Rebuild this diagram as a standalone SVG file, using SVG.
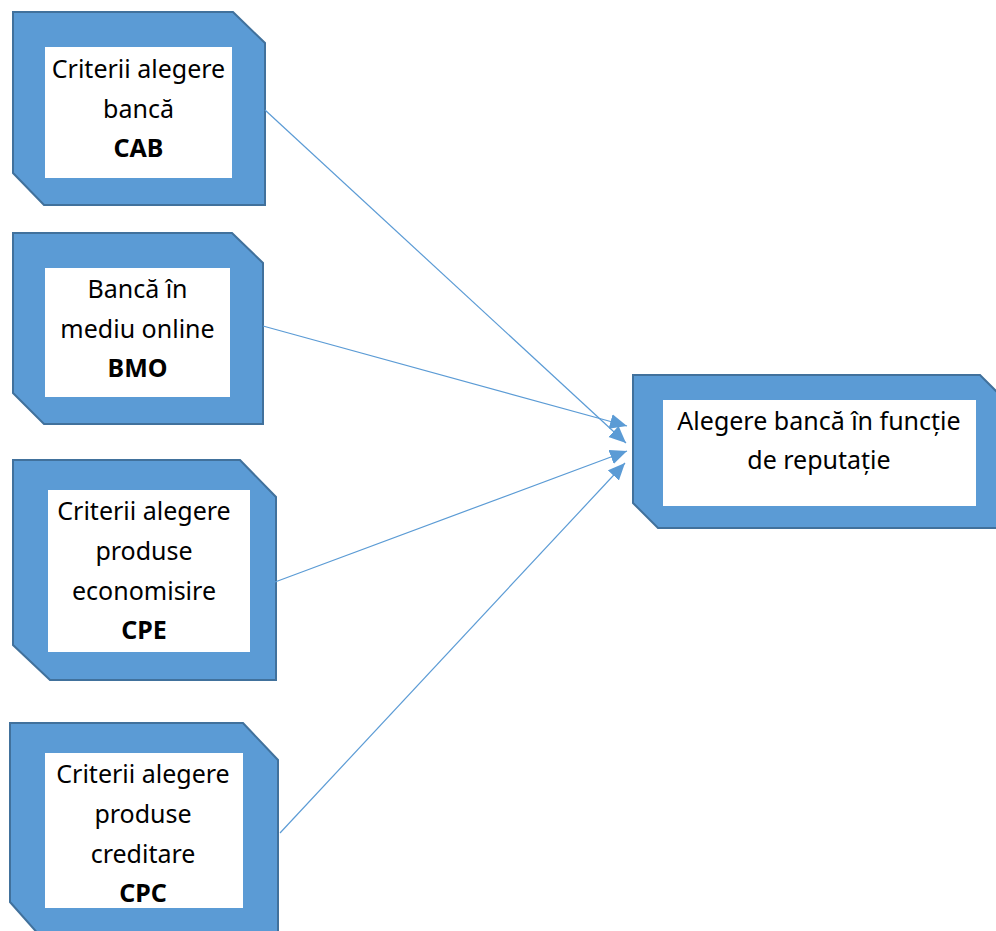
<svg xmlns="http://www.w3.org/2000/svg" width="996" height="931" viewBox="0 0 996 931">
  <style>
    .plate { fill: #5B9BD5; stroke: #41719C; stroke-width: 2; }
    .inner { fill: #FFFFFF; }
    .t { font-family: "Noto Sans", "Open Sans", sans-serif; font-size: 25px; fill: #000000; text-anchor: middle; }
    .b { font-weight: bold; }
    .conn { stroke: #5B9BD5; stroke-width: 1.2; fill: none; marker-end: url(#arrow); }
  </style>
  <defs>
    <marker id="arrow" markerUnits="userSpaceOnUse" markerWidth="18" markerHeight="16" refX="17" refY="7.5" orient="auto">
      <path d="M0,0 L17,7.5 L0,15 z" fill="#5B9BD5"/>
    </marker>
  </defs>
  <rect width="996" height="931" fill="#FFFFFF"/>

  <g id="node-cab">
    <polygon class="plate" points="13,12 233,12 265,43 265,205 44,205 13,173"/>
    <rect class="inner" x="45" y="47" width="187" height="131"/>
    <text class="t" x="138.5" y="78">Criterii alegere</text>
    <text class="t" x="138.5" y="118">bancă</text>
    <text class="t b" x="138.5" y="157">CAB</text>
  </g>

  <g id="node-bmo">
    <polygon class="plate" points="13,233 232,233 263,263 263,424 44,424 13,393"/>
    <rect class="inner" x="45" y="268" width="185" height="129"/>
    <text class="t" x="137.5" y="298">Bancă în</text>
    <text class="t" x="137.5" y="338">mediu online</text>
    <text class="t b" x="137.5" y="377">BMO</text>
  </g>

  <g id="node-cpe">
    <polygon class="plate" points="13,460 240,460 276,497 276,680 50,680 13,645"/>
    <rect class="inner" x="48" y="490" width="202" height="162"/>
    <text class="t" x="144" y="520">Criterii alegere</text>
    <text class="t" x="144" y="560">produse</text>
    <text class="t" x="144" y="600">economisire</text>
    <text class="t b" x="144" y="639">CPE</text>
  </g>

  <g id="node-cpc">
    <polygon class="plate" points="10,723 243,723 278,760 278,945 48,945 10,902"/>
    <rect class="inner" x="45" y="753" width="198" height="155"/>
    <text class="t" x="143" y="783">Criterii alegere</text>
    <text class="t" x="143" y="823">produse</text>
    <text class="t" x="143" y="863">creditare</text>
    <text class="t b" x="143" y="902">CPC</text>
  </g>

  <g id="node-target">
    <polygon class="plate" points="633,375 980,375 1012,407 1012,528 658,528 633,503"/>
    <rect class="inner" x="663" y="400" width="313" height="106"/>
    <text class="t" x="819" y="430">Alegere bancă în funcție</text>
    <text class="t" x="819" y="469">de reputație</text>
  </g>

  <g id="connectors">
    <path class="conn" d="M265,110 L626,443"/>
    <path class="conn" d="M263,326 L627,426"/>
    <path class="conn" d="M275,582 L627,451"/>
    <path class="conn" d="M280,833 L625,463"/>
  </g>
</svg>
